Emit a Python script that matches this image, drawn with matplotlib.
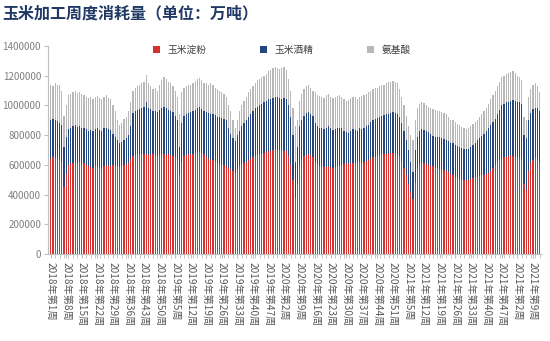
import numpy as np
import matplotlib.pyplot as plt
from matplotlib.patches import Patch

plt.rcParams['font.family'] = ['Noto Sans CJK SC', 'DejaVu Sans']

# weekly consumption by use, thousand tonnes (2018 w1 .. 2022 w12)
starch = [
    640, 650, 645, 655, 640, 620, 450, 540,
    600, 610, 615, 620, 612, 618, 605, 610, 600,
    590, 585, 580, 590, 595, 585, 575, 590, 600, 595, 590,
    600, 595, 590, 585, 590, 600, 605, 615, 640,
    660, 665, 670, 668, 672, 675, 670, 665, 668, 670,
    665, 660, 670, 675, 672, 668, 670, 665, 660, 650,
    640, 530, 620,
    660, 668, 672, 675, 670, 678, 685, 688, 680, 670,
    650, 640, 635, 630, 625,
    610, 605, 600, 598, 595,
    580, 570, 560, 545,
    570, 590, 600, 610, 620, 630, 640, 650, 660,
    665, 670, 675, 680, 685,
    690, 695, 700, 705, 700, 702, 698, 695, 690,
    660, 600, 500, 380, 470, 600,
    640, 660, 668, 670, 665, 655,
    620, 605, 595, 590, 585, 588, 590, 585, 580, 585, 590, 595, 600,
    605, 610, 608, 612, 615, 610, 618, 620, 615, 622, 625, 630,
    640, 650, 655, 660, 665, 670, 672, 675, 680, 678, 682, 680, 675,
    660, 620, 580, 530, 470, 420, 370, 480, 570,
    610, 615, 612,
    605, 600, 595, 590, 585, 580, 575, 570, 565, 560, 550, 540,
    530, 520, 510, 505, 500, 498, 495, 500,
    505, 510, 515, 520, 525, 530, 535, 540, 545, 560, 580,
    600, 620, 635, 645,
    650, 655, 660, 665, 660, 655, 650, 645, 640,
    470, 430,
    560, 610, 630, 645, 640, 620,
]
alcohol = [
    260, 260, 260, 240, 240, 250, 270, 250,
    240, 240, 245, 245, 243, 242, 245, 235, 240,
    240, 250, 245, 250, 250, 250, 255, 255, 250, 245, 245,
    210, 195, 180, 165, 165, 170, 175, 185, 220,
    290, 295, 300, 307, 308, 315, 350, 320, 307, 295,
    295, 295, 300, 310, 318, 312, 300, 300, 295, 280,
    260, 190, 260,
    270, 272, 278, 280, 290, 292, 300, 302, 295, 290,
    305, 310, 310, 310, 310,
    315, 315, 315, 312, 305,
    270, 240, 220, 215,
    230, 240, 260, 270, 280, 290, 300, 310, 320,
    325, 330, 335, 340, 345,
    350, 350, 350, 355, 355, 348, 347, 355, 350,
    340, 320, 300, 240, 250, 260,
    260, 270, 282, 285, 280, 275,
    260, 255, 255, 255, 255, 262, 270, 260, 255, 255, 255, 255, 245,
    225, 210, 207, 213, 225, 225, 212, 225, 225, 228, 235, 240,
    250, 250, 255, 255, 255, 260, 263, 265, 265, 272, 273, 270, 270,
    260, 260, 250, 240, 230, 200, 180, 220, 220,
    220, 225, 223,
    225, 220, 210, 205, 205, 205, 210, 210, 210, 210, 210, 210,
    215, 215, 215, 215, 215, 212, 210, 210,
    215, 225, 235, 245, 255, 265, 275, 290, 305, 310, 310,
    310, 320, 335, 355,
    360, 365, 365, 365, 375, 375, 375, 375, 370,
    330, 350,
    340, 340, 345, 340, 340, 340,
]
amino = [
    240, 220, 245, 240, 260, 230, 210, 210,
    230, 230, 230, 230, 230, 230, 230, 225, 220,
    220, 225, 220, 215, 220, 215, 210, 215, 220, 210, 205,
    190, 170, 130, 120, 125, 140, 140, 160, 160,
    150, 160, 160, 165, 170, 170, 185, 165, 155, 145,
    160, 145, 170, 185, 200, 200, 190, 185, 175, 170,
    160, 220, 210,
    190, 190, 190, 180, 190, 195, 190, 195, 195, 190,
    195, 190, 205, 195, 185,
    185, 180, 175, 165, 160,
    150, 150, 120, 90,
    100, 130, 140, 150, 160, 170, 170, 170, 170,
    180, 180, 180, 180, 180,
    190, 195, 200, 200, 200, 195, 205, 210, 200,
    180, 180, 180, 240, 180, 170,
    180, 180, 180, 180, 175, 170,
    210, 210, 215, 215, 210, 220, 220, 215, 215, 215, 220, 220, 215,
    210, 210, 220, 225, 220, 220, 215, 215, 225, 220, 220, 220,
    210, 210, 205, 205, 210, 205, 205, 210, 210, 210, 210, 210, 205,
    190, 180, 170, 160, 160, 180, 220, 200, 190,
    180, 180, 180,
    170, 170, 175, 180, 180, 180, 175, 175, 175, 170, 160, 155,
    155, 155, 150, 145, 140, 135, 135, 140,
    140, 140, 140, 140, 140, 145, 150, 155, 160, 170, 180,
    190, 190, 190, 190,
    190, 190, 195, 195, 195, 185, 175, 170, 160,
    120, 120,
    160, 160, 165, 165, 150, 130,
]
week_labels = [
    "2018年第1周", "2018年第8周", "2018年第15周", "2018年第22周",
    "2018年第29周", "2018年第36周", "2018年第43周", "2018年第50周",
    "2019年第5周", "2019年第12周", "2019年第19周", "2019年第26周",
    "2019年第33周", "2019年第40周", "2019年第47周",
    "2020年第2周", "2020年第9周", "2020年第16周", "2020年第23周",
    "2020年第30周", "2020年第37周", "2020年第44周", "2020年第51周",
    "2021年第5周", "2021年第12周", "2021年第19周", "2021年第26周",
    "2021年第33周", "2021年第40周", "2021年第47周",
    "2021年第2周", "2021年第9周",
]
series_names = ["玉米淀粉", "玉米酒精", "氨基酸"]
colors = ["#d5312f", "#25457f", "#b8b8b8"]

starch = np.array(starch) * 1000
alcohol = np.array(alcohol) * 1000
amino = np.array(amino) * 1000
x = np.arange(len(starch))

fig = plt.figure(figsize=(5.5, 3.41), dpi=100)
ax = fig.add_axes([48 / 550, 1 - 254 / 341, 493 / 550, 208 / 341])

w = 0.55
ax.bar(x, starch, width=w, color=colors[0], linewidth=0)
ax.bar(x, alcohol, width=w, bottom=starch, color=colors[1], linewidth=0)
ax.bar(x, amino, width=w, bottom=starch + alcohol, color=colors[2], linewidth=0)

ax.set_xlim(-1.2, len(x) - 0.4)
ax.set_ylim(0, 1400000)
ax.set_yticks(np.arange(0, 1400001, 200000))
ax.yaxis.set_major_formatter(plt.FuncFormatter(lambda v, p: f"{int(v)}"))

label_pos = np.arange(0, len(x), 7)
ax.set_xticks(label_pos)
ax.set_xticklabels(week_labels[:len(label_pos)], rotation=-90,
                   fontsize=7.3, color="#595959", va="top", ha="center")
ax.set_xticks(np.arange(0, len(x), 2), minor=True)
ax.tick_params(axis="x", which="both", length=3, color="#bfbfbf", pad=3)
ax.tick_params(axis="y", length=3, color="#bfbfbf", labelsize=7,
               labelcolor="#7f7f7f", pad=2)

for side in ["top", "right"]:
    ax.spines[side].set_visible(False)
for side in ["left", "bottom"]:
    ax.spines[side].set_color("#bfbfbf")
    ax.spines[side].set_linewidth(0.8)

handles = [Patch(facecolor=c, edgecolor="none") for c in colors]
fig.legend(handles, series_names, loc="center", bbox_to_anchor=(0.513, 0.853),
           ncol=3, frameon=False, fontsize=7, handlelength=0.7,
           handleheight=0.7, columnspacing=5.5, handletextpad=0.8,
           labelcolor="#404040")

fig.text(0.005, 0.962, "玉米加工周度消耗量（单位：万吨）", fontsize=11.5,
         fontweight="bold", color="#1f3864", va="center", ha="left")

fig.savefig("out.png", dpi=100)
